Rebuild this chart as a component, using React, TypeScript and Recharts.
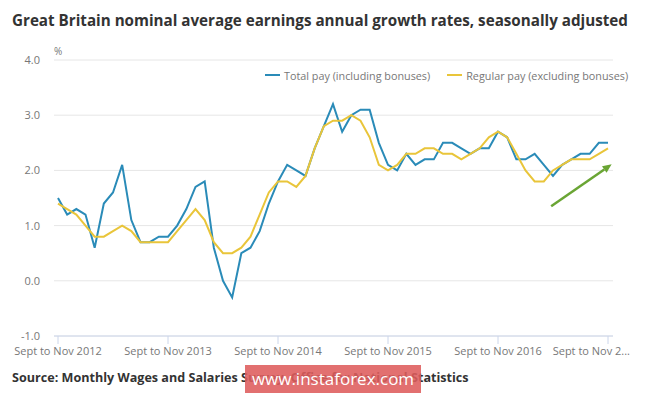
import { CartesianGrid, Line, LineChart, ReferenceLine, XAxis, YAxis } from 'recharts'

// rolling three-month periods, Sept to Nov 2012 ... Sept to Nov 2017
const yearPeriods = (y: number) => [
  `Sept to Nov ${y}`,
  `Oct to Dec ${y}`,
  `Nov ${y} to Jan ${y + 1}`,
  `Dec ${y} to Feb ${y + 1}`,
  `Jan to Mar ${y + 1}`,
  `Feb to Apr ${y + 1}`,
  `Mar to May ${y + 1}`,
  `Apr to June ${y + 1}`,
  `May to July ${y + 1}`,
  `June to Aug ${y + 1}`,
  `July to Sept ${y + 1}`,
  `Aug to Oct ${y + 1}`,
]
const periods = [
  ...yearPeriods(2012),
  ...yearPeriods(2013),
  ...yearPeriods(2014),
  ...yearPeriods(2015),
  ...yearPeriods(2016),
  'Sept to Nov 2017',
]

const totalPay = [
  1.5, 1.2, 1.3, 1.2, 0.6, 1.4, 1.6, 2.1, 1.1, 0.7, 0.7, 0.8,
  0.8, 1.0, 1.3, 1.7, 1.8, 0.6, 0.0, -0.3, 0.5, 0.6, 0.9, 1.4,
  1.8, 2.1, 2.0, 1.9, 2.4, 2.8, 3.2, 2.7, 3.0, 3.1, 3.1, 2.5,
  2.1, 2.0, 2.3, 2.1, 2.2, 2.2, 2.5, 2.5, 2.4, 2.3, 2.4, 2.4,
  2.7, 2.6, 2.2, 2.2, 2.3, 2.1, 1.9, 2.1, 2.2, 2.3, 2.3, 2.5,
  2.5,
]

const regularPay = [
  1.4, 1.3, 1.2, 1.0, 0.8, 0.8, 0.9, 1.0, 0.9, 0.7, 0.7, 0.7,
  0.7, 0.9, 1.1, 1.3, 1.1, 0.7, 0.5, 0.5, 0.6, 0.8, 1.2, 1.6,
  1.8, 1.8, 1.7, 1.9, 2.4, 2.8, 2.9, 2.9, 3.0, 2.9, 2.6, 2.1,
  2.0, 2.1, 2.3, 2.3, 2.4, 2.4, 2.3, 2.3, 2.2, 2.3, 2.4, 2.6,
  2.7, 2.6, 2.3, 2.0, 1.8, 1.8, 2.0, 2.1, 2.2, 2.2, 2.2, 2.3,
  2.4,
]

const yTicks = [-1, 0, 1, 2, 3, 4]
const xTicks = [0, 12, 24, 36, 48, 60]
const arrow = [
  { x: 53.8, y: 1.35 },
  { x: 60.4, y: 2.11 },
]

const data = periods.map((period, i) => ({
  i,
  period,
  total: totalPay[i],
  regular: regularPay[i],
}))

const FONT = '"Open Sans", sans-serif'
const BLUE = '#2a8bb8'
const YELLOW = '#e9c53a'

function PeriodTick({ x, y, payload }: any) {
  const label = periods[payload.value]
  const last = payload.value === periods.length - 1
  return (
    <text
      x={last ? x + 22 : x}
      y={y}
      dy={9}
      textAnchor={last ? 'end' : 'middle'}
      fill="#777"
      fontSize={11}
      fontFamily={FONT}
    >
      {last ? label.slice(0, 13) + '...' : label}
    </text>
  )
}

function ArrowShape(props: any) {
  const { x1, y1, x2, y2 } = props
  const ang = Math.atan2(y2 - y1, x2 - x1)
  const len = 9
  const w = 4
  const bx = x2 - len * Math.cos(ang)
  const by = y2 - len * Math.sin(ang)
  const px = -Math.sin(ang) * w
  const py = Math.cos(ang) * w
  return (
    <g>
      <line x1={x1} y1={y1} x2={bx} y2={by} stroke="#6aa534" strokeWidth={2.5} />
      <polygon points={`${x2},${y2} ${bx + px},${by + py} ${bx - px},${by - py}`} fill="#6aa534" />
    </g>
  )
}

function LegendItem({ color, text }: { color: string; text: string }) {
  return (
    <span style={{ display: 'inline-flex', alignItems: 'center', marginRight: 17 }}>
      <span style={{ width: 15, height: 2, background: color, marginRight: 4 }} />
      {text}
    </span>
  )
}

export default function App() {
  return (
    <div style={{ position: 'absolute', left: 0, top: 0, width: 665, height: 396, background: '#fff', overflow: 'hidden' }}>
      <div
        style={{
          position: 'absolute',
          left: 12,
          top: 10,
          fontFamily: FONT,
          fontWeight: 700,
          fontSize: 15.2,
          color: '#333',
          whiteSpace: 'nowrap',
        }}
      >
        Great Britain nominal average earnings annual growth rates, seasonally adjusted
      </div>
      <div style={{ position: 'absolute', left: 54, top: 44, fontFamily: FONT, fontSize: 10, color: '#777' }}>%</div>
      <div
        style={{
          position: 'absolute',
          left: 265,
          top: 64,
          fontFamily: FONT,
          fontSize: 10.8,
          color: '#777',
          whiteSpace: 'nowrap',
        }}
      >
        <LegendItem color={BLUE} text="Total pay (including bonuses)" />
        <LegendItem color={YELLOW} text="Regular pay (excluding bonuses)" />
      </div>
      <LineChart
        width={665}
        height={396}
        data={data}
        margin={{ top: 60, right: 52, bottom: 30, left: 0 }}
      >
        <CartesianGrid vertical={false} stroke="#e6e6e6" />
        <XAxis
          dataKey="i"
          type="number"
          domain={[0, 60]}
          ticks={xTicks}
          padding={{ left: 4, right: 5 }}
          height={30}
          tickSize={8}
          tickMargin={2}
          stroke="#ccd6eb"
          tick={<PeriodTick />}
        />
        <YAxis
          domain={[-1, 4]}
          ticks={yTicks}
          width={54}
          axisLine={false}
          tickLine={false}
          tickSize={0}
          tickMargin={14}
          tickFormatter={(v: number) => v.toFixed(1)}
          tick={{ fill: '#777', fontSize: 11, fontFamily: FONT }}
        />
        <Line
          dataKey="total"
          type="linear"
          stroke={BLUE}
          strokeWidth={2}
          dot={false}
          isAnimationActive={false}
        />
        <Line
          dataKey="regular"
          type="linear"
          stroke={YELLOW}
          strokeWidth={2}
          dot={false}
          isAnimationActive={false}
        />
        <ReferenceLine segment={arrow} ifOverflow="visible" shape={<ArrowShape />} />
      </LineChart>
      <div
        style={{
          position: 'absolute',
          left: 12,
          top: 369,
          fontFamily: FONT,
          fontWeight: 700,
          fontSize: 12.6,
          color: '#333',
          whiteSpace: 'nowrap',
        }}
      >
        Source: Monthly Wages and Salaries Survey, Office for National Statistics
      </div>
      <div
        style={{
          position: 'absolute',
          left: 245,
          top: 365,
          width: 176,
          height: 28,
          background: 'rgba(222, 92, 92, 0.88)',
          color: '#fff',
          fontFamily: FONT,
          fontSize: 17,
          lineHeight: '28px',
          textAlign: 'center',
        }}
      >
        www.instaforex.com
      </div>
    </div>
  )
}
